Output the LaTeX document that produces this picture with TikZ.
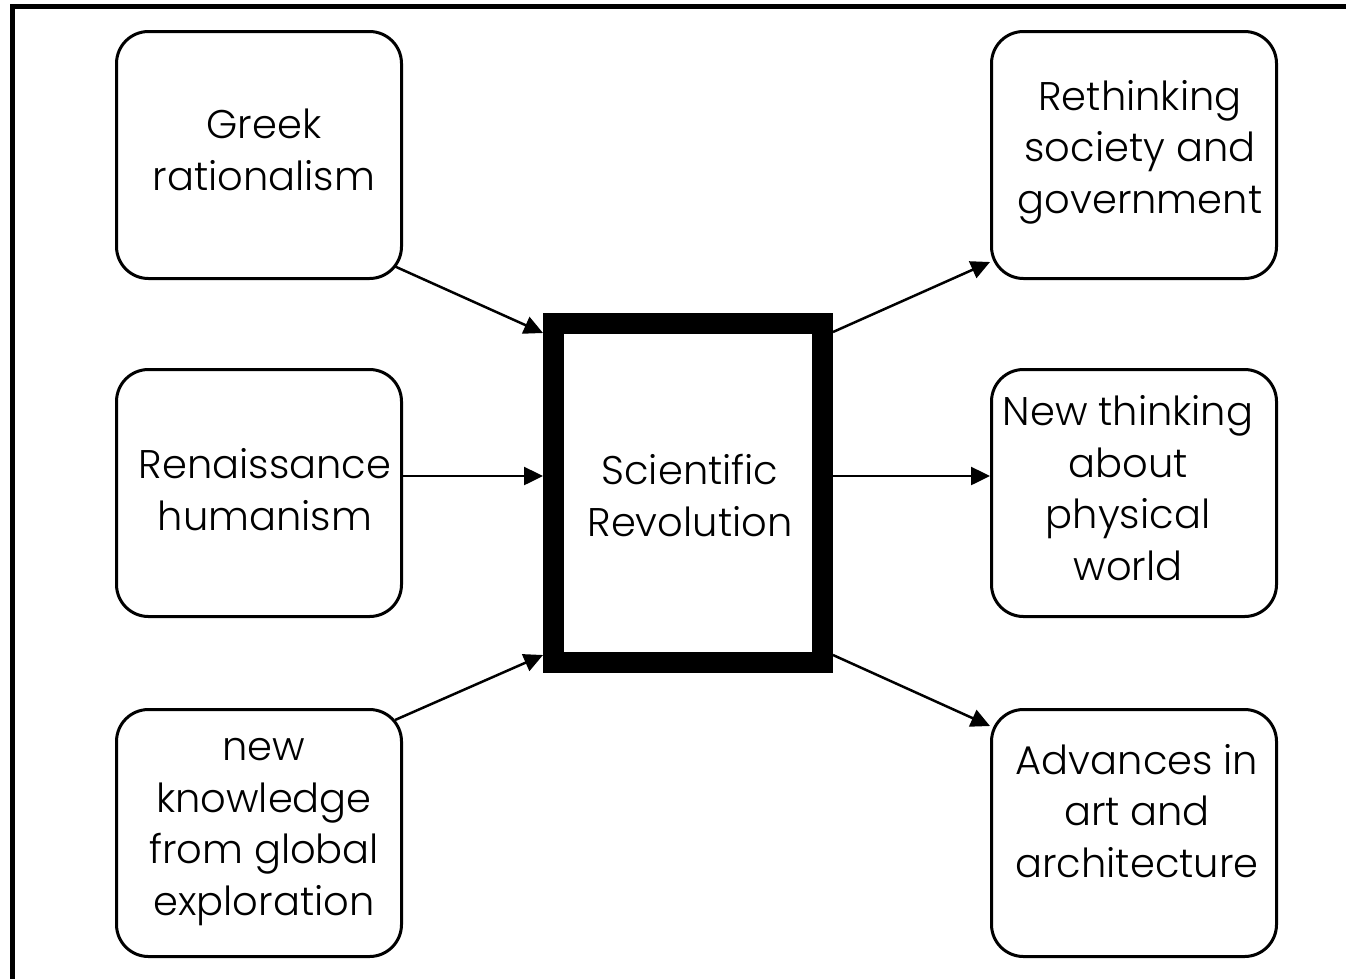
\documentclass[tikz,border=0pt]{standalone}
\usepackage{fontspec}
\setmainfont{Poppins}[UprightFont=* Light]
\usetikzlibrary{arrows.meta,calc}
\begin{document}
\begin{tikzpicture}[x=1pt,y=-1pt,
  rbox/.style={draw, line width=3pt, rounded corners=32pt, minimum width=285pt, minimum height=247pt, inner sep=0pt},
  cbox/.style={draw, line width=21pt, minimum width=269pt, minimum height=339pt, inner sep=0pt},
  lbl/.style={align=center, anchor=base, inner sep=0pt, font=\fontsize{40}{51.5}\selectfont},
  conn/.style={line width=2.5pt, -{Triangle[length=19pt,width=18pt]}}]
\useasboundingbox (0,0) rectangle (1346,978);
\draw[line width=5pt] (12.5,1000) |- (1400,6.5);
% boxes
\node[rbox] (greek) at (259,155) {};
\node[rbox] (ren)   at (259,493) {};
\node[rbox] (know)  at (259,833) {};
\node[rbox] (soc)   at (1134,155) {};
\node[rbox] (phys)  at (1134,493) {};
\node[rbox] (art)   at (1134,833) {};
\node[cbox] (sci)   at (688,493) {};
% texts (anchored at the baseline of the last line)
\node[lbl] (greekt) at (264,190) {Greek\\rationalism};
\node[lbl] (rent)   at (265,530) {Renaissance\\humanism};
\node[lbl] (knowt)  at (264,915) {new\\knowledge\\from global\\exploration};
\node[lbl] (scit)   at (690,536) {Scientific\\Revolution};
\node[lbl] (soct)   at (1140,213) {Rethinking\\society and\\government};
\node[lbl] (physt)  at (1128,580) {New thinking\\about\\physical\\world};
\node[lbl] (artt)   at (1137,877) {Advances in\\art and\\architecture};
% connectors
\draw[conn] ($(greek.south east)+(-9,-14)$) -- ($(sci.north west)+(0,20)$);
\draw[conn] ($(ren.east)+(0,-17)$) -- ($(sci.west)+(0,-17)$);
\draw[conn] ($(know.north east)+(-8,12)$) -- ($(sci.south west)+(0,-18)$);
\draw[conn] ($(sci.north east)+(0,19)$) -- ($(soc.south west)+(0,-18)$);
\draw[conn] ($(sci.east)+(0,-17)$) -- ($(phys.west)+(0,-17)$);
\draw[conn] ($(sci.south east)+(0,-18)$) -- ($(art.north west)+(0,18)$);
\end{tikzpicture}
\end{document}
